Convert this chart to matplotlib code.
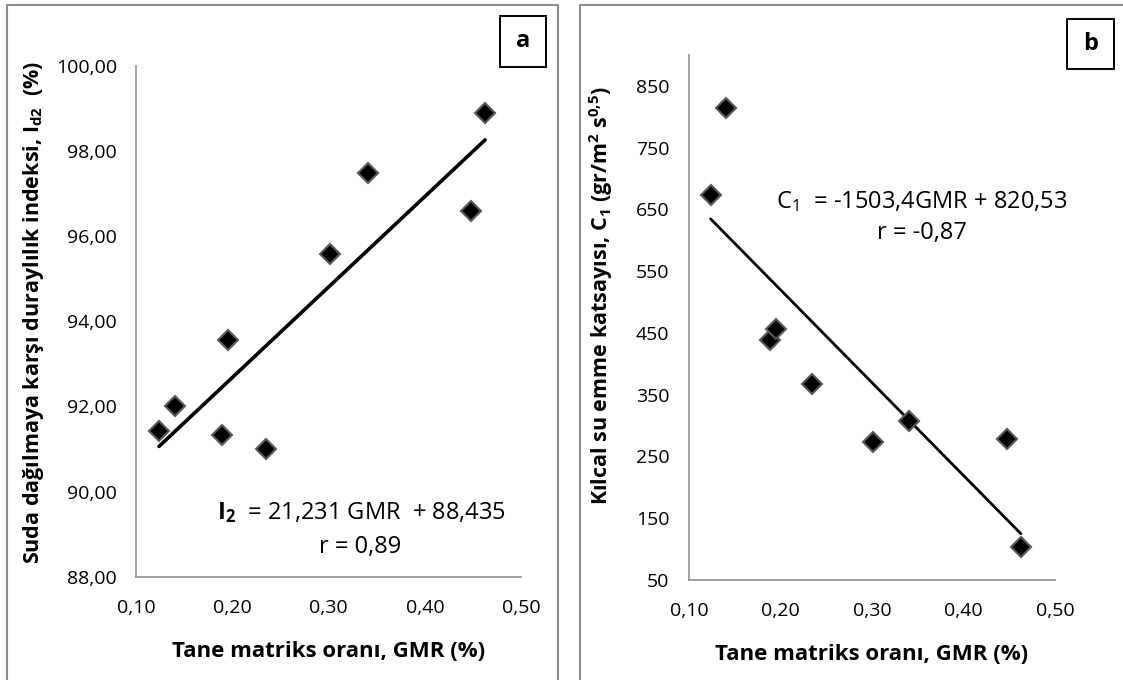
import numpy as np
import matplotlib.pyplot as plt
from matplotlib.lines import Line2D

plt.rcParams['font.family'] = ['Open Sans', 'DejaVu Sans']
plt.rcParams['mathtext.fontset'] = 'custom'
plt.rcParams['mathtext.rm'] = 'Open Sans'
plt.rcParams['mathtext.bf'] = 'Open Sans:bold'
plt.rcParams['mathtext.it'] = 'Open Sans:italic'

# data
gmr = [0.1236, 0.1402, 0.1888, 0.1950, 0.2349, 0.3015, 0.3407, 0.4478, 0.4627]
id2 = [91.41, 92.00, 91.33, 93.55, 91.00, 95.57, 97.47, 96.58, 98.89]
c1 = [673, 815, 439, 457, 367, 273, 308, 279, 103]

# regression lines from the chart text
fit_a = (21.231, 88.435)
fit_b = (-1503.4, 820.53)

x_ticks = [0.10, 0.20, 0.30, 0.40, 0.50]
ya_ticks = [88, 90, 92, 94, 96, 98, 100]
yb_ticks = [50, 150, 250, 350, 450, 550, 650, 750, 850]

W, H = 1123, 680
fig = plt.figure(figsize=(W / 100, H / 100), dpi=100)


def px(x0, y0, x1, y1):
    # pixel box (top-left origin) -> figure fraction rect
    return [x0 / W, 1 - y1 / H, (x1 - x0) / W, (y1 - y0) / H]


def style(ax):
    for s in ['top', 'right']:
        ax.spines[s].set_visible(False)
    for s in ['left', 'bottom']:
        ax.spines[s].set_color('#9a9a9a')
        ax.spines[s].set_linewidth(1.3)
    ax.tick_params(length=0, labelsize=14, colors='black')
    ax.tick_params(axis='y', pad=14)
    ax.tick_params(axis='x', pad=16)
    ax.set_xlim(0.1, 0.5)
    ax.set_xticks(x_ticks)
    ax.set_xticklabels([f'{t:.2f}'.replace('.', ',') for t in x_ticks])
    ax.set_xlabel('Tane matriks oranı, GMR (%)', fontsize=16,
                  fontweight='bold', labelpad=17)


def fit_line(ax, k, b, lw):
    xs = np.array([min(gmr), max(gmr)])
    ax.plot(xs, k * xs + b, color='black', lw=lw, solid_capstyle='round', zorder=2)


# panel a
ax1 = fig.add_axes(px(136.3, 65.7, 521, 576.7))
style(ax1)
ax1.set_ylim(88, 100)
ax1.set_yticks(ya_ticks)
ax1.set_yticklabels([f'{t:.2f}'.replace('.', ',') for t in ya_ticks])
fit_line(ax1, *fit_a, lw=2.6)
ax1.plot(gmr, id2, 'D', ms=10, color='black', mec='#5a5a5a', mew=1.5, zorder=3)

# panel b
ax2 = fig.add_axes(px(689, 55, 1055, 580))
style(ax2)
ax2.set_ylim(50, 900)
ax2.set_yticks(yb_ticks)
fit_line(ax2, *fit_b, lw=2.0)
ax2.plot(gmr, c1, 'D', ms=10, color='black', mec='#5a5a5a', mew=1.5, zorder=3)

# y labels
fig.text(34 / W, 1 - 312 / H, r'Suda dağılmaya karşı duraylılık indeksi, I$_\mathbf{d2}$  (%)',
         rotation=90, ha='center', va='center', fontsize=15.5, fontweight='bold')
fig.text(601 / W, 1 - 296 / H, r'Kılcal su emme katsayısı, C$_\mathbf{1}$ (gr/m$^\mathbf{2}$ s$^\mathbf{0{,}5}$)',
         rotation=90, ha='center', va='center', fontsize=15.5, fontweight='bold')

# equations
fig.text(362 / W, 1 - 513 / H, r'$\mathbf{I_2}$  = 21,231 GMR  + 88,435',
         ha='center', va='center', fontsize=17)
fig.text(360 / W, 1 - 547 / H, 'r = 0,89', ha='center', va='center', fontsize=17)
fig.text(922 / W, 1 - 202 / H, r'C$_1$  = -1503,4GMR + 820,53',
         ha='center', va='center', fontsize=17)
fig.text(922 / W, 1 - 233 / H, 'r = -0,87', ha='center', va='center', fontsize=17)

# panel frames
grey = '#8c8c8c'
for xs, ys in [([7, 7, 558, 558], [680, 5, 5, 680]),
               ([580, 580, 1123], [680, 5, 5])]:
    fig.add_artist(Line2D([x / W for x in xs], [1 - y / H for y in ys],
                          color=grey, lw=1.5))

# letter boxes
for (x0, y0, x1, y1), lab in [((500, 16, 546, 66.7), 'a'), ((1067, 19, 1114, 69), 'b')]:
    fig.add_artist(plt.Rectangle((x0 / W, 1 - y1 / H), (x1 - x0) / W, (y1 - y0) / H,
                                 fill=False, ec='black', lw=1.4))
    fig.text((x0 + x1) / 2 / W, 1 - (y0 + y1) / 2 / H, lab, ha='center', va='center',
             fontsize=17, fontweight='bold')

fig.savefig('out.png', dpi=100)
